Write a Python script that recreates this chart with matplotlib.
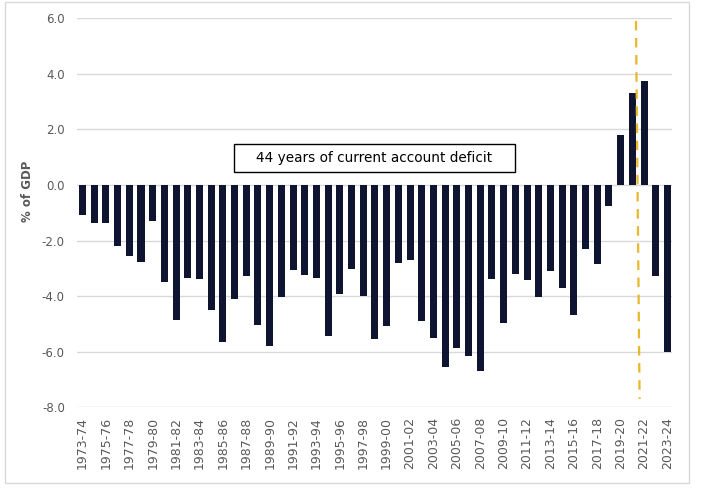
import matplotlib
matplotlib.use('Agg')
import matplotlib.pyplot as plt
from matplotlib.patches import Rectangle
import numpy as np

# financial years 1973-74 .. 2023-24
years = [f"{y}-{(y + 1) % 100:02d}" for y in range(1973, 2024)]

# current account balance, % of GDP
balance = [-1.07, -1.36, -1.36, -2.20, -2.56, -2.77, -1.29, -3.49, -4.87, -3.35,
           -3.39, -4.51, -5.67, -4.12, -3.29, -5.05, -5.81, -4.03, -3.07, -3.25,
           -3.35, -5.45, -3.93, -3.03, -4.01, -5.56, -5.08, -2.80, -2.70, -4.90,
           -5.51, -6.56, -5.87, -6.16, -6.70, -3.38, -4.97, -3.20, -3.42, -4.03,
           -3.09, -3.71, -4.68, -2.30, -2.84, -0.75, 1.80, 3.32, 3.75, -3.27,
           -6.02]

yticks = [6.0, 4.0, 2.0, 0.0, -2.0, -4.0, -6.0, -8.0]
note = "44 years of current account deficit"

bar_color = '#0f1530'
grid_color = '#d9d9d9'
text_color = '#595959'

fig = plt.figure(figsize=(7.06, 4.96), dpi=100)
fig.patch.set_facecolor('white')
ax = fig.add_axes([0.1095, 0.179, 0.8425, 0.784])

x = np.arange(len(years))
ax.bar(x, balance, width=0.6, color=bar_color, zorder=3)

ax.set_xlim(-0.445, 50.4)
ax.set_ylim(-8, 6)
ax.set_yticks(yticks)
ax.set_yticklabels([f"{v:.1f}" for v in yticks])
ax.yaxis.grid(True, color=grid_color, linewidth=1.0, zorder=0)
ax.set_axisbelow(True)

ax.set_xticks(x[::2])
ax.set_xticklabels(years[::2], rotation=90, ha='center', va='top')
ax.tick_params(axis='x', length=0, pad=7, labelsize=9, labelcolor=text_color)
ax.tick_params(axis='y', length=0, pad=9, labelsize=8.5, labelcolor=text_color)

for s in ax.spines.values():
    s.set_visible(False)

# dashed marker between 2020-21 and 2021-22
ax.plot([47.31, 47.62], [5.91, -7.70], color='#e6b82a', linewidth=1.6,
        dashes=(4.3, 3.4), zorder=4)

# annotation box
ax.add_patch(Rectangle((12.95, 0.457), 23.99, 1.008, facecolor='white',
                       edgecolor='black', linewidth=1.0, zorder=5))
ax.text(24.94, 0.96, note, ha='center', va='center', fontsize=9.8,
        color='black', zorder=6)

fig.text(27.5 / 706, 1 - 191 / 496, "% of GDP", rotation=90, ha='center',
         va='center', fontsize=8.5, fontweight='bold', color=text_color)

# light outer frame
fig.patches.append(Rectangle((5 / 706, 1 - 483 / 496), 684 / 706, 481 / 496,
                             transform=fig.transFigure, fill=False,
                             edgecolor=grid_color, linewidth=1.0))

fig.savefig("out.png", dpi=100, facecolor='white')
